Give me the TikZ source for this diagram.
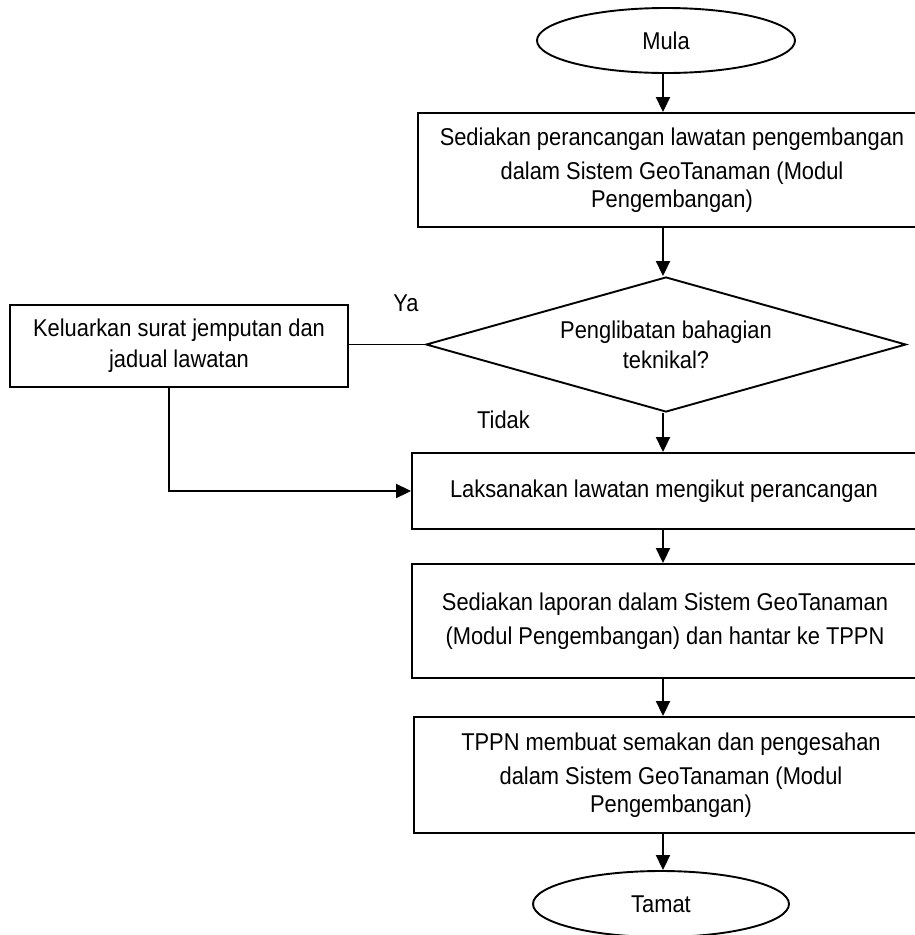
\documentclass[tikz,border=0pt]{standalone}
\usepackage{fontspec}
\setmainfont{Liberation Sans}[FakeStretch=0.9]
\usetikzlibrary{shapes.geometric,arrows.meta}

\begin{document}
\begin{tikzpicture}[x=1pt,y=-1pt,line width=1.9pt,
        every node/.style={font=\fontsize{24.3}{34}\selectfont, align=center, inner sep=0pt},
        kotak/.style={draw, rectangle, minimum height=#1},
        bujur/.style={draw, ellipse, minimum width=258pt, minimum height=65pt},
        arr/.style={-{Triangle[length=15pt,width=14pt]}}]
        \useasboundingbox (0,0) rectangle (915,935);
        \coordinate (paksi) at (663,0);

        \node (mula) [bujur] at (666,40.5) {Mula};
        \node (sedia) [kotak=114pt, minimum width=508pt] at (672,170)
            {Sediakan perancangan lawatan pengembangan\\dalam Sistem GeoTanaman (Modul\\[-6pt]Pengembangan)};
        \node (libat) [draw, diamond, aspect=3.55, minimum width=480pt, minimum height=135pt] at (666,344.5)
            {Penglibatan bahagian\\[-4pt]teknikal?};
        \node (keluar) [kotak=82pt, minimum width=338pt] at (179,346)
            {Keluarkan surat jemputan dan\\[-3pt]jadual lawatan};
        \node (laksana) [kotak=76pt, minimum width=504pt] at (664,491) {Laksanakan lawatan mengikut perancangan};
        \node (lapor) [kotak=114pt, minimum width=506pt] at (665,621)
            {Sediakan laporan dalam Sistem GeoTanaman\\(Modul Pengembangan) dan hantar ke TPPN};
        \node (semak) [kotak=116pt, minimum width=514pt] at (671,775)
            {TPPN membuat semakan dan pengesahan\\dalam Sistem GeoTanaman (Modul\\[-6pt]Pengembangan)};
        \node (tamat) [bujur, minimum width=256pt, minimum height=66pt] at (661,904) {Tamat};

        \node (ya) at (406,303) {Ya};
        \node (tidak) at (503.5,420) {Tidak};

        % aliran utama
        \draw[arr] (mula.south -| paksi) -- (sedia.north -| paksi);
        \draw[arr] (sedia.south -| paksi) -- (libat.north -| paksi);
        \draw[arr] (libat.south -| paksi) -- (laksana.north -| paksi);
        \draw[arr] (laksana.south -| paksi) -- (lapor.north -| paksi);
        \draw[arr] (lapor.south -| paksi) -- (semak.north -| paksi);
        \draw[arr] (semak.south -| paksi) -- (tamat.north -| paksi);

        % cabang ya
        \draw (libat.west) -- (libat.west -| keluar.east);
        \draw[arr] ([xshift=-10pt]keluar.south) |- (laksana.west);
    \end{tikzpicture}
\end{document}
